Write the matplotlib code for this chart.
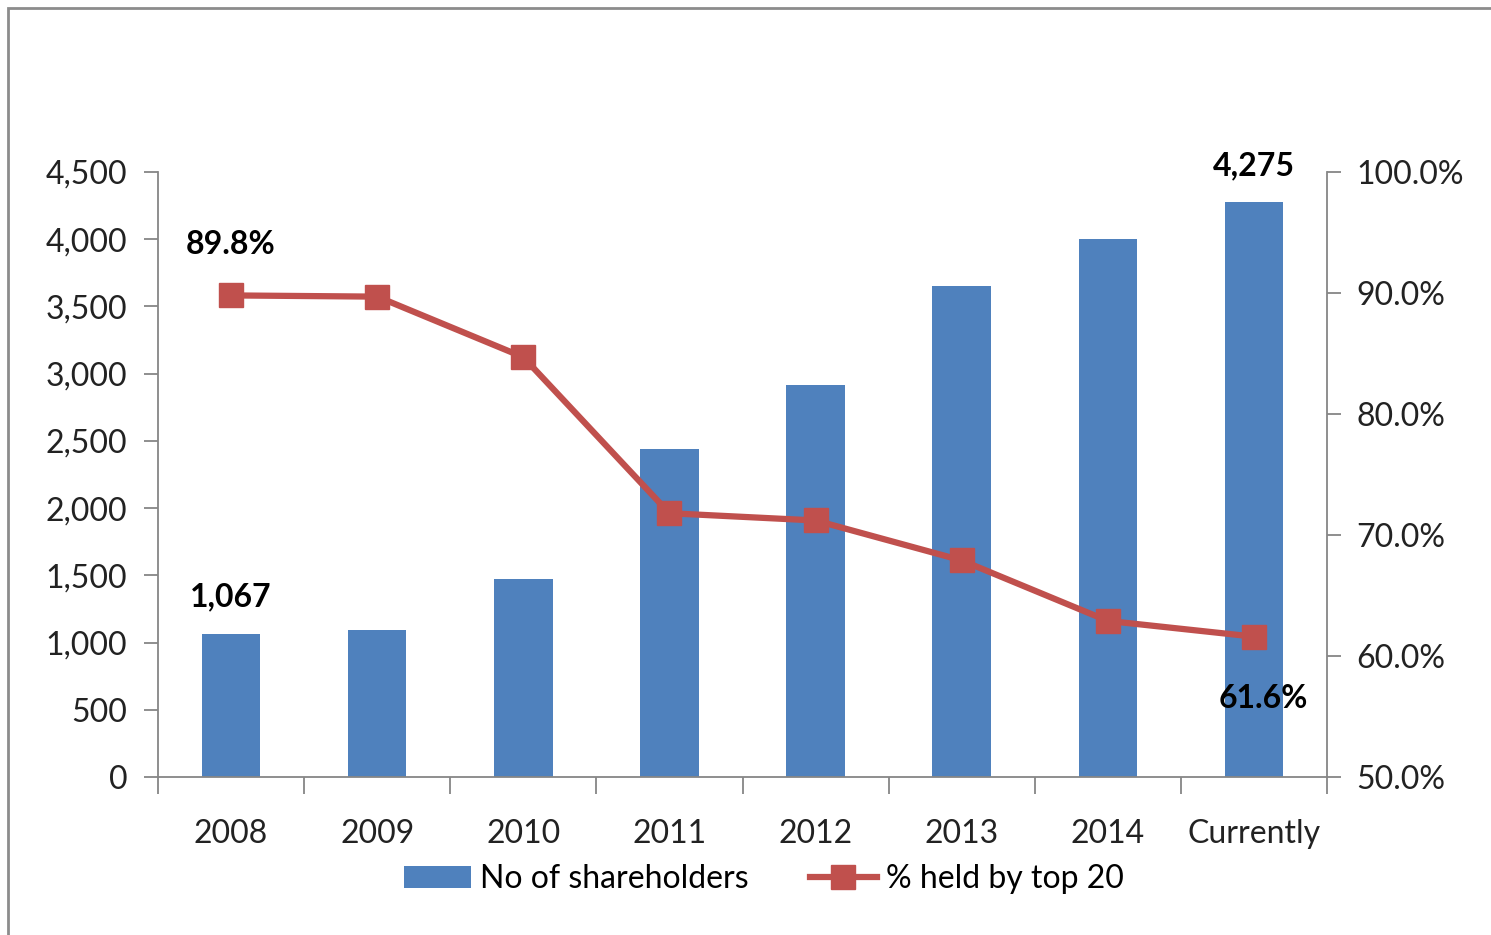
import matplotlib
matplotlib.use("Agg")
import matplotlib.pyplot as plt
from matplotlib.patches import Rectangle
from matplotlib.ticker import FuncFormatter, FixedLocator

categories = ["2008", "2009", "2010", "2011", "2012", "2013", "2014", "Currently"]
shareholders = [1067, 1094, 1472, 2440, 2915, 3652, 4003, 4275]
pct_top20 = [89.8, 89.7, 84.7, 71.8, 71.2, 67.9, 62.9, 61.6]

plt.rcParams['font.family'] = ['Lato', 'DejaVu Sans']

BLUE = "#4F81BD"
RED = "#C0504D"
GRAY = "#868686"
FS = 23

fig = plt.figure(figsize=(14.91, 9.35), dpi=100)
ax = fig.add_axes([158/1491, 1-777/935, (1327-158)/1491, (777-172)/935])
ax2 = ax.twinx()

x = list(range(len(categories)))
bars = ax.bar(x, shareholders, width=0.4, color=BLUE, zorder=2, label="No of shareholders")
ln, = ax2.plot(x, pct_top20, color=RED, lw=4.5, marker="s", markersize=17,
               markerfacecolor=RED, markeredgecolor=RED, zorder=3, label="% held by top 20")

ax.set_xlim(-0.5, len(categories)-0.5)
ax.set_ylim(0, 4500)
ax2.set_ylim(50, 100)
ax.set_yticks(range(0, 4501, 500))
ax.yaxis.set_major_formatter(FuncFormatter(lambda v, p: f"{int(v):,}"))
ax2.set_yticks(range(50, 101, 10))
ax2.yaxis.set_major_formatter(FuncFormatter(lambda v, p: f"{v:.1f}%"))

ax.set_xticks(x)
ax.set_xticklabels(categories)
ax.xaxis.set_minor_locator(FixedLocator([i - 0.5 for i in range(len(categories)+1)]))
ax.tick_params(axis="x", which="major", length=0, labelsize=FS, pad=30, colors="#222222")
ax.tick_params(axis="x", which="minor", length=12, width=1.3, color=GRAY, direction="out")
ax.tick_params(axis="y", length=10, width=1.3, color=GRAY, labelsize=FS, labelcolor="#222222", pad=12)
ax2.tick_params(axis="y", length=10, width=1.3, color=GRAY, labelsize=FS, labelcolor="#222222", pad=11)

for a in (ax, ax2):
    a.spines["top"].set_visible(False)
    for s in ("left", "right", "bottom"):
        a.spines[s].set_color(GRAY)
        a.spines[s].set_linewidth(1.3)
ax2.spines["left"].set_visible(False)
ax2.spines["bottom"].set_visible(False)
ax.spines["right"].set_visible(False)

ax.set_zorder(1)
ax2.set_zorder(2)
ax2.patch.set_visible(False)

ax.annotate(f"{shareholders[0]:,}", (x[0], shareholders[0]), xytext=(0, 16), textcoords="offset points",
            ha="center", va="bottom", fontsize=FS, fontweight="bold")
ax.annotate(f"{shareholders[-1]:,}", (x[-1], shareholders[-1]), xytext=(0, 16), textcoords="offset points",
            ha="center", va="bottom", fontsize=FS, fontweight="bold")
ax2.annotate(f"{pct_top20[0]:.1f}%", (x[0], pct_top20[0]), xytext=(0, 26), textcoords="offset points",
             ha="center", va="bottom", fontsize=FS, fontweight="bold")
ax2.annotate(f"{pct_top20[-1]:.1f}%", (x[-1], pct_top20[-1]), xytext=(7, -34), textcoords="offset points",
             ha="center", va="top", fontsize=FS, fontweight="bold")

fig.legend(handles=[bars, ln], labels=["No of shareholders", "% held by top 20"],
           loc="center", bbox_to_anchor=(764/1491, 1-879/935), ncol=2, frameon=False,
           fontsize=FS, handlelength=2.1, handletextpad=0.3, columnspacing=1.9)

fig.patches.append(Rectangle((8/1491, -0.1), 1.2, 1-8/935+0.1, transform=fig.transFigure,
                             fill=False, edgecolor="#8c8c8c", linewidth=2))

fig.savefig("out.png", dpi=100)
